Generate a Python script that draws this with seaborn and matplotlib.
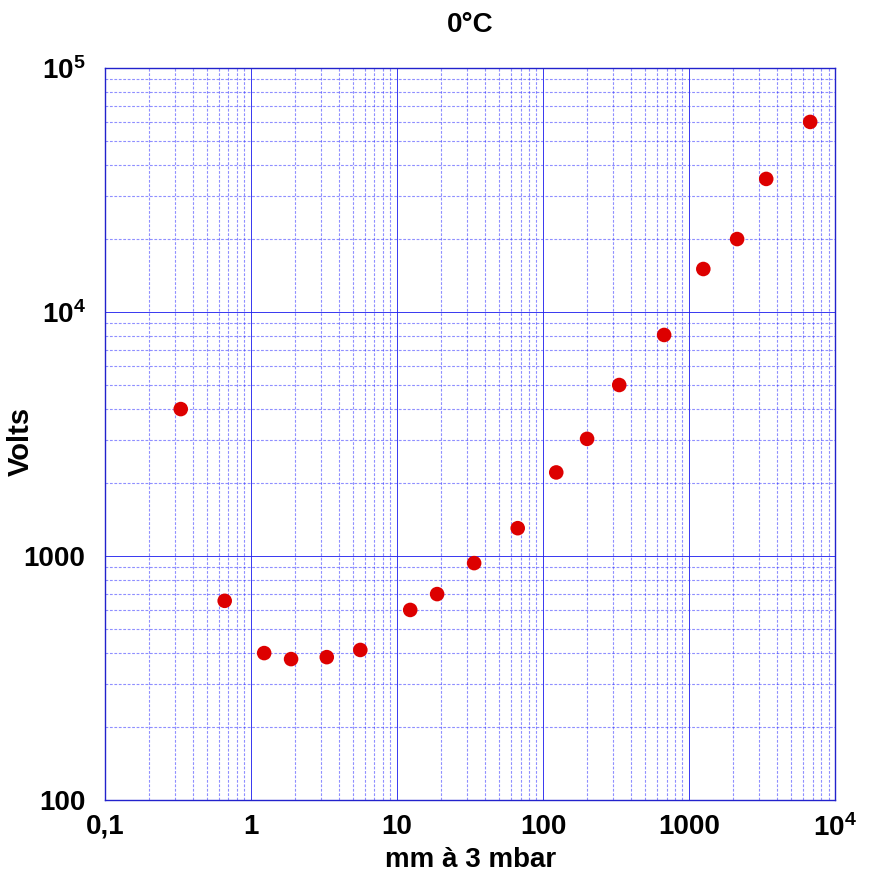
import numpy as np
import pandas as pd
import matplotlib
matplotlib.use('Agg')
import matplotlib.pyplot as plt
import matplotlib.ticker as mticker
import seaborn as sns

pressure = [0.33, 0.66, 1.23, 1.88, 3.3, 5.6, 12.3, 18.8, 33.7, 67, 123, 200, 332, 674, 1250, 2130, 3370, 6740]
volts = [4000, 655, 400, 378, 385, 412, 601, 698, 935, 1300, 2200, 3020, 5020, 8050, 15000, 19900, 35100, 60100]

x_ticks = [0.1, 1, 10, 100, 1000, 10000]
x_labels = ['0,1', '1', '10', '100', '1000', r'$\mathbf{10^4}$']
y_ticks = [100, 1000, 10000, 100000]
y_labels = ['100', '1000', r'$\mathbf{10^4}$', r'$\mathbf{10^5}$']

df = pd.DataFrame({'p': pressure, 'v': volts})

sns.set_style('white')
plt.rcParams['font.family'] = ['Liberation Sans', 'DejaVu Sans']
plt.rcParams['mathtext.fontset'] = 'custom'
plt.rcParams['mathtext.bf'] = 'Liberation Sans:bold'
plt.rcParams['mathtext.rm'] = 'Liberation Sans'
plt.rcParams['text.color'] = 'black'
plt.rcParams['axes.labelcolor'] = 'black'
plt.rcParams['xtick.color'] = 'black'
plt.rcParams['ytick.color'] = 'black'

fig = plt.figure(figsize=(8.7, 8.77), dpi=100)
ax = fig.add_axes([0.1207, 0.0878, 0.8393, 0.8347])
ax.set_xscale('log')
ax.set_yscale('log')

sns.scatterplot(data=df, x='p', y='v', ax=ax, color='#dd0000', s=110, edgecolor='none', zorder=3)

ax.set_xlim(0.1, 1e4)
ax.set_ylim(100, 1e5)
ax.xaxis.set_minor_locator(mticker.LogLocator(base=10, subs=np.arange(2, 10), numticks=20))
ax.yaxis.set_minor_locator(mticker.LogLocator(base=10, subs=np.arange(2, 10), numticks=20))
ax.set_xticks(x_ticks)
ax.set_xticklabels(x_labels)
ax.set_yticks(y_ticks)
ax.set_yticklabels(y_labels)
ax.xaxis.set_minor_formatter(mticker.NullFormatter())
ax.yaxis.set_minor_formatter(mticker.NullFormatter())

ax.grid(True, which='major', color='#2222ee', linewidth=0.7, linestyle='-', alpha=0.9)
ax.grid(True, which='minor', color='#3333ff', linewidth=0.8, linestyle=(0, (2.5, 1.5)), alpha=0.55)
ax.set_axisbelow(True)

ax.tick_params(which='both', length=0, labelsize=20, labelcolor='black')
ax.tick_params(axis='x', pad=10)
ax.tick_params(axis='y', pad=14)
for lab in ax.get_xticklabels() + ax.get_yticklabels():
    lab.set_fontweight('bold')

for sp in ax.spines.values():
    sp.set_color('#2222cc')
    sp.set_linewidth(1.0)

ax.set_xlabel('mm à 3 mbar', fontsize=20, fontweight='bold', labelpad=4, color='black')
ax.set_ylabel('Volts', fontsize=21, fontweight='bold', color='black')
ax.yaxis.set_label_coords(-0.096, 0.49)
ax.set_title('0°C', fontsize=20, fontweight='bold', pad=26, color='black')

fig.savefig('out.png', dpi=100)
